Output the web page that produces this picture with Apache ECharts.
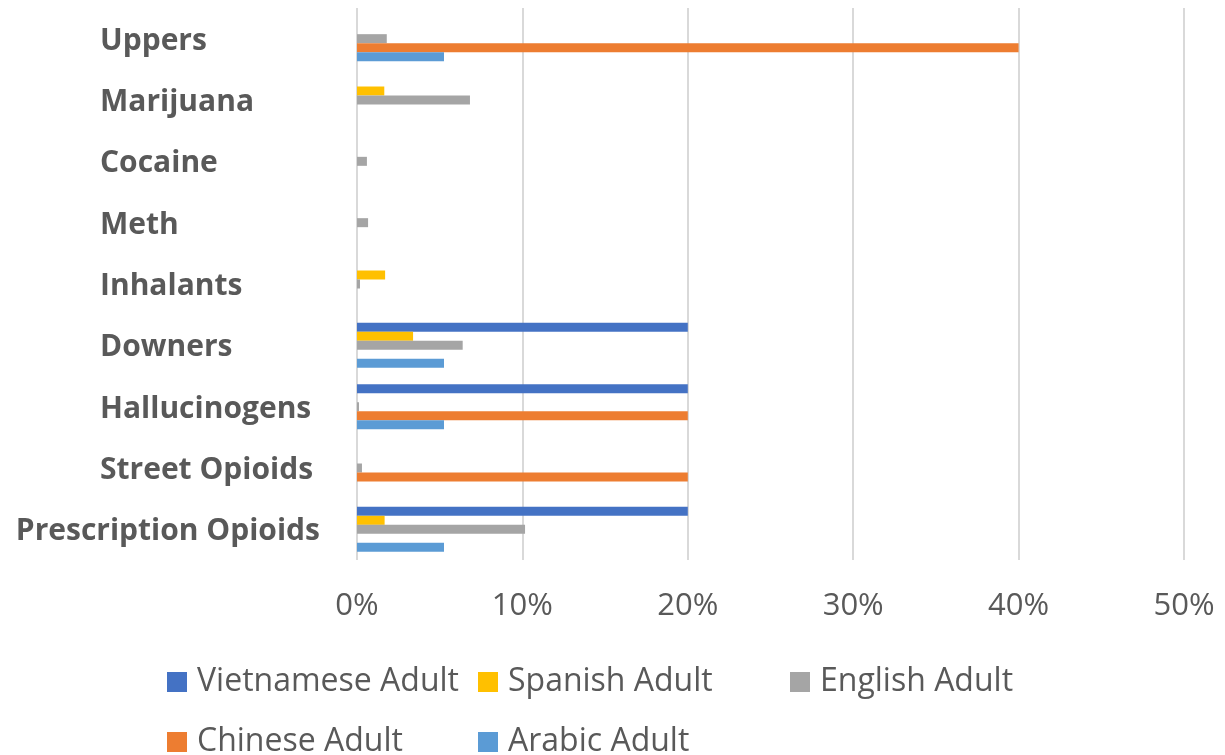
<!DOCTYPE html>
<html>
<head>
<meta charset="utf-8">
<script src="https://cdn.jsdelivr.net/npm/echarts@6/dist/echarts.min.js"></script>
<style>html,body{margin:0;padding:0;background:#fff}#c{width:1225px;height:755px}</style>
</head>
<body>
<div id="c"></div>
<script>
// Categories, bottom to top
var categories = ['Prescription Opioids','Street Opioids','Hallucinogens','Downers','Inhalants','Meth','Cocaine','Marijuana','Uppers'];
// Values in percent, same order as categories
var vietnamese = [20, 0, 20, 20, 0, 0, 0, 0, 0];
var spanish    = [1.67, 0, 0, 3.39, 1.7, 0, 0, 1.65, 0];
var english    = [10.16, 0.3, 0.12, 6.39, 0.18, 0.67, 0.6, 6.83, 1.8];
var chinese    = [0, 20, 20, 0, 0, 0, 0, 0, 40];
var arabic     = [5.26, 0, 5.26, 5.26, 0, 0, 0, 0, 5.26];
var xTicks = [0, 10, 20, 30, 40, 50];
var seriesNames = ['Vietnamese Adult','Spanish Adult','English Adult','Chinese Adult','Arabic Adult'];

var colors = {
  'Vietnamese Adult':'#4472C4','Spanish Adult':'#FFC000','English Adult':'#A5A5A5',
  'Chinese Adult':'#ED7D31','Arabic Adult':'#5B9BD5'
};
var values = {
  'Vietnamese Adult':vietnamese,'Spanish Adult':spanish,'English Adult':english,
  'Chinese Adult':chinese,'Arabic Adult':arabic
};

var chart = echarts.init(document.getElementById('c'));
var labelFont = 'Open Sans';
var series = seriesNames.map(function(n){
  return {
    name:n, type:'bar', data: values[n].map(function(v){return v===0?null:v;}),
    barWidth:9, barGap:'0%', itemStyle:{color:colors[n]}, animation:false
  };
});

var legendPos = [
  {name:'Vietnamese Adult', left:167, top:666},
  {name:'Spanish Adult', left:478, top:666},
  {name:'English Adult', left:790, top:666},
  {name:'Chinese Adult', left:167, top:726},
  {name:'Arabic Adult', left:478, top:726}
];
var legends = legendPos.map(function(p){
  return {
    data:[p.name], left:p.left, top:p.top, padding:0, itemWidth:20, itemHeight:20, itemGap:0,
    icon:'rect', selectedMode:false,
    textStyle:{fontFamily:labelFont, fontSize:32, color:'#595959', padding:[0,0,0,5]}
  };
});

chart.setOption({
  animation:false,
  color: seriesNames.map(function(n){return colors[n];}),
  grid:{left:357, right:41, top:8, bottom:195, containLabel:false},
  legend: legends,
  xAxis:{
    type:'value', min:xTicks[0], max:xTicks[xTicks.length-1], interval:10,
    axisLine:{show:false}, axisTick:{show:false},
    splitLine:{lineStyle:{color:'#D9D9D9', width:2}},
    axisLabel:{formatter:'{value}%', color:'#595959', fontFamily:labelFont, fontSize:31, margin:31}
  },
  yAxis:{
    type:'category', data:categories,
    axisLine:{show:false}, axisTick:{show:false},
    axisLabel:{
      align:'right', margin:37, color:'#595959', fontFamily:labelFont, fontWeight:'bold', fontSize:30,
      formatter:function(v){
        return v.length > 16 ? '{b|' + v + '}' : '{a|' + v + '}';
      },
      rich:{
        a:{width:220, align:'left', color:'#595959', fontFamily:labelFont, fontWeight:'bold', fontSize:30, padding:[5,0,0,0]},
        b:{color:'#595959', fontFamily:labelFont, fontWeight:'bold', fontSize:30, padding:[5,0,0,0]}
      }
    }
  },
  series: series
});
</script>
</body>
</html>
